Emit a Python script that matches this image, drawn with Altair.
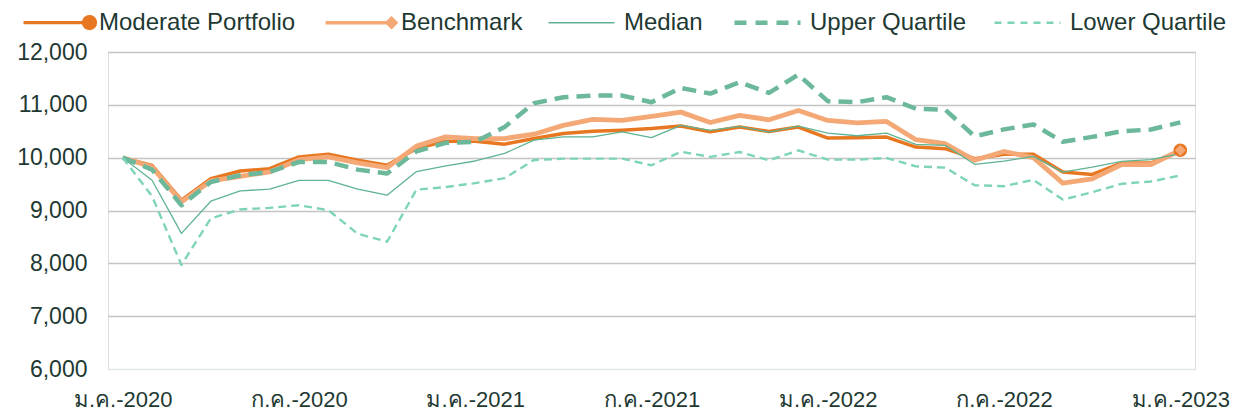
import math
import altair as alt
import pandas as pd

# ---------------- data ----------------
thai_months = ["ม.ค.", "ก.พ.", "มี.ค.", "เม.ย.", "พ.ค.", "มิ.ย.",
               "ก.ค.", "ส.ค.", "ก.ย.", "ต.ค.", "พ.ย.", "ธ.ค."]
periods = [f"{thai_months[i % 12]}-{2020 + i // 12}" for i in range(37)]
tick_labels = ["ม.ค.-2020", "ก.ค.-2020", "ม.ค.-2021", "ก.ค.-2021",
               "ม.ค.-2022", "ก.ค.-2022", "ม.ค.-2023"]

series_names = ["Moderate Portfolio", "Benchmark", "Median",
                "Upper Quartile", "Lower Quartile"]

portfolio = [10000, 9855, 9195, 9604, 9748, 9792, 10013, 10063, 9950, 9855,
             10175, 10312, 10312, 10256, 10362, 10456, 10500, 10519, 10550, 10600,
             10492, 10579, 10497, 10579, 10371, 10377, 10390, 10201, 10170, 9981,
             10065, 10063, 9727, 9683, 9898, 9898, 10140]
benchmark = [10000, 9824, 9164, 9560, 9648, 9730, 9962, 10013, 9900, 9811,
             10219, 10394, 10362, 10362, 10444, 10612, 10725, 10706, 10781, 10862,
             10665, 10799, 10717, 10893, 10704, 10660, 10686, 10340, 10264, 9950,
             10117, 10000, 9517, 9600, 9867, 9867, 10140]
median = [10000, 9572, 8566, 9176, 9371, 9403, 9572, 9572, 9403, 9289,
          9737, 9844, 9937, 10081, 10331, 10394, 10394, 10487, 10381, 10612,
          10517, 10591, 10484, 10597, 10465, 10415, 10465, 10252, 10233, 9874,
          9935, 10025, 9727, 9822, 9930, 9962, 10076]
upper_q = [10000, 9774, 9100, 9540, 9667, 9730, 9918, 9918, 9774, 9700,
           10120, 10281, 10300, 10581, 11031, 11143, 11175, 11175, 11050, 11319,
           11213, 11428, 11226, 11572, 11069, 11050, 11145, 10925, 10906, 10403,
           10535, 10629, 10300, 10394, 10500, 10533, 10667]
lower_q = [10000, 9270, 7970, 8850, 9020, 9050, 9100, 9006, 8560, 8409,
           9395, 9444, 9519, 9612, 9956, 9981, 9981, 9981, 9856, 10112,
           10016, 10107, 9950, 10138, 9962, 9962, 9994, 9836, 9811, 9478,
           9460, 9580, 9206, 9346, 9505, 9549, 9663]

values = [portfolio, benchmark, median, upper_q, lower_q]

rows = []
for name, vals in zip(series_names, values):
    for i, v in enumerate(vals):
        rows.append({"period": periods[i], "idx": i, "series": name, "value": v})
df = pd.DataFrame(rows)

# ---------------- styles ----------------
colors = ["#E87722", "#F3A876", "#5FB393", "#6CB89B", "#7ED4BA"]
widths = [3.5, 4.8, 1.3, 4.5, 2.4]
dashes = [None, None, None, [14, 8], [8, 5]]
TEXT = "#1E3932"
FONT = "Liberation Sans"

# legend symbol shapes: a 66px line (drawn wider than the layout box) with a
# stroke-filled marker at its right end for the two orange series
BOX = 22.0
k = BOX / 2
HALF = 33.0 / k


def ring(radius_px, n=20):
    rr = radius_px / k
    pts = [(HALF + rr * math.cos(2 * math.pi * j / n), rr * math.sin(2 * math.pi * j / n)) for j in range(n)]
    return "M" + "L".join(f"{x:.4f},{y:.4f}" for x, y in pts) + "Z"


def dmd(h_px):
    h = h_px / k
    return f"M{HALF-h:.4f},0L{HALF:.4f},{-h:.4f}L{HALF+h:.4f},0L{HALF:.4f},{h:.4f}Z"


line_path = f"M{-HALF:.4f},0L{HALF:.4f},0"
circle_path = line_path + ring(1.3) + ring(3.8) + ring(6.0)
diamond_path = line_path + dmd(1.6) + dmd(4.3)

shape_expr = (f"(datum.value === 'Moderate Portfolio' ? '{circle_path}' : "
              f"datum.value === 'Benchmark' ? '{diamond_path}' : '{line_path}')")
width_expr = ("(datum.value === 'Moderate Portfolio' ? 3.2 : datum.value === 'Benchmark' ? 3.6 : "
              "datum.value === 'Median' ? 1.4 : datum.value === 'Upper Quartile' ? 4.5 : 2.4)")
dash_expr = ("(datum.value === 'Upper Quartile' ? [12, 9] : "
             "datum.value === 'Lower Quartile' ? [7, 6] : [1, 0])")

legend = alt.Legend(
    orient="none", legendX=-64, legendY=-42, direction="horizontal", title=None,
    symbolType=alt.ExprRef(expr=shape_expr),
    symbolStrokeWidth=alt.ExprRef(expr=width_expr),
    symbolDash=alt.ExprRef(expr=dash_expr),
    symbolSize=BOX * BOX, symbolOpacity=1,
    labelFontSize=24, labelFont=FONT, labelColor=TEXT, labelOffset=30,
    columnPadding=22, labelLimit=400, padding=0,
)

color_enc = alt.Color("series:N", scale=alt.Scale(domain=series_names, range=colors), legend=legend)

x_enc = alt.X(
    "period:O", sort=periods, scale=alt.Scale(type="point", padding=0.5),
    axis=alt.Axis(values=tick_labels, labelAngle=0, ticks=False, domain=False, grid=False,
                  labelPadding=20, title=None, labelOverlap=False, labelFontSize=22,
                  labelFont=FONT, labelColor=TEXT),
)
y_enc = alt.Y(
    "value:Q", scale=alt.Scale(domain=[6000, 12000], nice=False, zero=False),
    axis=alt.Axis(values=list(range(6000, 12001, 1000)),
                  labelExpr="floor(datum.value / 1000) + ',000'",
                  title=None, ticks=False,
                  domain=False, labelPadding=21, labelFontSize=23, labelFont=FONT,
                  labelColor=TEXT, gridWidth=1.6,
                  gridColor={"condition": {"test": "datum.value === 6000", "value": "#E2E8E5"},
                             "value": "#C4C4C4"}),
)

base = alt.Chart(df)
layers = []
for j, (name, c, w, dsh) in enumerate(zip(series_names, colors, widths, dashes)):
    kw = dict(strokeWidth=w, strokeCap="butt", strokeJoin="round", opacity=1)
    if dsh:
        kw["strokeDash"] = dsh
    enc = dict(x=x_enc, y=y_enc, order="idx:Q")
    if j == 0:
        enc["color"] = color_enc          # this layer carries the legend
    else:
        kw["color"] = c
    layers.append(base.transform_filter(alt.datum.series == name).mark_line(**kw).encode(**enc))

last = len(periods) - 1
marker_p = (base.transform_filter((alt.datum.series == series_names[0]) & (alt.datum.idx == last))
            .mark_point(shape="circle", filled=True, size=185, color=colors[0], opacity=1)
            .encode(x=x_enc, y=y_enc))
marker_b = (base.transform_filter((alt.datum.series == series_names[1]) & (alt.datum.idx == last))
            .mark_point(shape="diamond", filled=True, size=120, color=colors[1], opacity=1)
            .encode(x=x_enc, y=y_enc))

chart = (
    alt.layer(*layers, marker_p, marker_b)
    .properties(width=1087, height=317, autosize=alt.AutoSizeParams(type="none"),
                padding={"left": 100, "top": 44, "right": 45, "bottom": 42})
    .configure_view(stroke="#E4E4E4", strokeWidth=1.5)
    .configure(background="white")
)

chart.save("out.html", embed_options={"renderer": "svg", "actions": False})
